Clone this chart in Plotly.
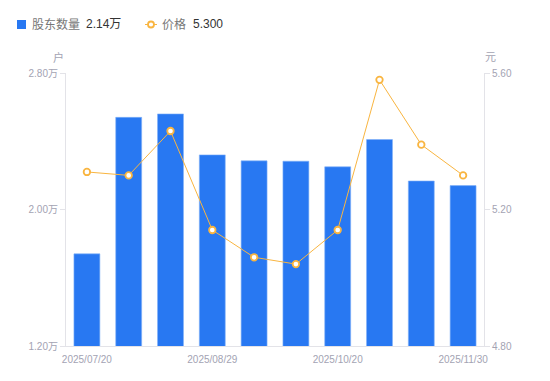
import plotly.graph_objects as go

dates = ["2025/07/20", "2025/07/31", "2025/08/10", "2025/08/29", "2025/09/10",
         "2025/09/30", "2025/10/20", "2025/10/31", "2025/11/10", "2025/11/30"]
holders = [1.74, 2.54, 2.56, 2.32, 2.285, 2.283, 2.25, 2.41, 2.167, 2.14]  # 万户
price = [5.31, 5.30, 5.43, 5.14, 5.06, 5.04, 5.14, 5.58, 5.39, 5.30]
tick_dates = ["2025/07/20", "2025/08/29", "2025/10/20", "2025/11/30"]
left_ticks = [1.2, 2.0, 2.8]
right_ticks = [4.8, 5.2, 5.6]

BLUE = "#2878F2"
ORANGE = "#F9B540"
AXIS = "#a3a3b3"
LINE = "#e3e3e8"
FONT = "Liberation Sans, Arial, Noto Sans CJK SC, sans-serif"

W, H = 550, 381
L, R, T, B = 66, 66, 73, 35
PW, PH = W - L - R, H - T - B


def px(x):
    return (x - L) / PW


def py(y):
    return (H - B - y) / PH


fig = go.Figure()
fig.add_trace(go.Bar(
    x=dates, y=holders, name="股东数量",
    marker=dict(color=BLUE, line=dict(color="#7fb0f8", width=0.6)),
    width=0.62, yaxis="y", showlegend=False))
fig.add_trace(go.Scatter(
    x=dates, y=price, mode="lines+markers", name="价格",
    line=dict(color=ORANGE, width=1),
    marker=dict(size=6.5, color="white", line=dict(color=ORANGE, width=1.8)),
    yaxis="y2", showlegend=False))

shapes = [
    dict(type="rect", xref="paper", yref="paper", x0=px(17), x1=px(26), y0=py(29), y1=py(20),
         fillcolor=BLUE, line=dict(width=0)),
    dict(type="line", xref="paper", yref="paper", x0=px(145), x1=px(157), y0=py(24.5), y1=py(24.5),
         line=dict(color=ORANGE, width=1)),
    dict(type="circle", xref="paper", yref="paper", x0=px(148), x1=px(154), y0=py(27.5), y1=py(21.5),
         fillcolor="white", line=dict(color=ORANGE, width=1.8)),
]


def txt(s, x, y, color, size=12, anchor="left"):
    return dict(text=s, xref="paper", yref="paper", x=px(x), y=py(y), showarrow=False,
                font=dict(size=size, color=color, family=FONT), xanchor=anchor, yanchor="middle")


annotations = [
    txt("股东数量", 30, 24.5, "#777"),
    txt(f"{holders[-1]:.2f}万", 84, 24.5, "#333"),
    txt("价格", 160, 24.5, "#777"),
    txt(f"{price[-1]:.3f}", 191, 24.5, "#333"),
    txt("户", 58, 57, AXIS, 11, "center"),
    txt("元", 490, 57, AXIS, 11, "center"),
]

fig.update_layout(
    width=W, height=H,
    margin=dict(l=L, r=R, t=T, b=B),
    plot_bgcolor="white", paper_bgcolor="white",
    font=dict(family=FONT, size=10, color=AXIS),
    showlegend=False,
    shapes=shapes,
    annotations=annotations,
    xaxis=dict(type="category", range=[-0.5, len(dates) - 0.5], tickmode="array",
               tickvals=tick_dates, ticktext=tick_dates, ticklabelstandoff=4,
               showgrid=False, showline=True, linecolor=LINE, linewidth=1,
               ticks="", tickfont=dict(size=10, color=AXIS), zeroline=False),
    yaxis=dict(range=[1.2, 2.8], tickmode="array", tickvals=left_ticks,
               ticktext=[f"{v:.2f}万" for v in left_ticks],
               showgrid=False, showline=True, linecolor=LINE, linewidth=1,
               ticks="outside", ticklen=5, tickcolor=LINE,
               tickfont=dict(size=10, color=AXIS), zeroline=False),
    yaxis2=dict(range=[4.8, 5.6], overlaying="y", side="right", tickmode="array",
                tickvals=right_ticks, ticktext=[f"{v:.2f}" for v in right_ticks],
                showgrid=False, showline=True, linecolor=LINE, linewidth=1,
                ticks="outside", ticklen=5, tickcolor=LINE,
                tickfont=dict(size=10, color=AXIS), zeroline=False),
)

fig.write_html("out.html")
